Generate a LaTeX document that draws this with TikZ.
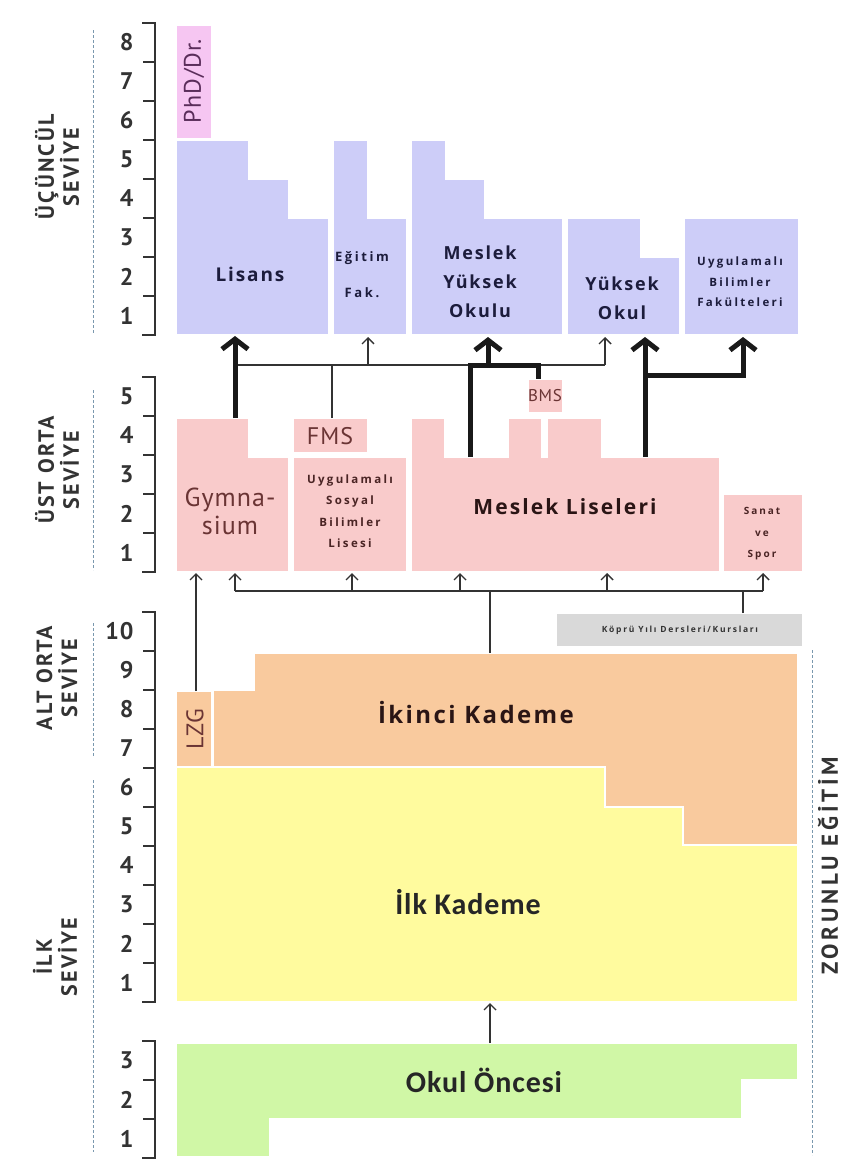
\documentclass[tikz,border=0pt]{standalone}
\usepackage{fontspec}
\setmainfont{Open Sans}
\newfontfamily\boxfont{Open Sans}[LetterSpace=10]
\newfontfamily\tinyfont{Open Sans}[LetterSpace=20]
\newfontfamily\dinfont{PT Sans}[LetterSpace=4]
\newfontfamily\axisfont{PT Sans}[LetterSpace=10]
\newfontfamily\wideaxisfont{PT Sans}[LetterSpace=16]
\newfontfamily\calfont{Carlito}[LetterSpace=3]
\usetikzlibrary{arrows.meta}

\newcommand\fsz[2]{\fontsize{#1}{#2}\selectfont}

\definecolor{lavender}{HTML}{CDCDF8}
\definecolor{orchid}{HTML}{F6C6F2}
\definecolor{rose}{HTML}{F9CBCB}
\definecolor{peach}{HTML}{F9CA9E}
\definecolor{lemon}{HTML}{FFFB9E}
\definecolor{mint}{HTML}{D0F7A6}
\definecolor{bridge}{HTML}{D9D9D9}
\definecolor{ink}{HTML}{333333}
\definecolor{navy}{HTML}{1C1C3C}
\definecolor{wine}{HTML}{6A3434}
\definecolor{plum}{HTML}{5A2D5A}
\definecolor{sepcol}{HTML}{7A98AE}

\tikzset{
  block/.style={draw=white, line width=1.2pt},
  level/.style={font={\axisfont\bfseries\fsz{22}{25}}, text=ink, rotate=90, align=center},
  num/.style={font={\dinfont\bfseries\fsz{24}{24}}, text=ink, anchor=east},
  sep/.style={draw=sepcol, line width=0.9pt, dash pattern=on 3pt off 2pt},
  brk/.style={draw=ink, line width=1.8pt},
  lbl/.style={text=navy, align=center},
  din/.style={font={\dinfont\fsz{24}{28}}, text=wine, align=center},
  link/.style={draw=ink, line width=1.4pt},
  linkarr/.style={link, -{Straight Barb[length=6pt,width=12pt]}},
  mainlink/.style={draw=black!90, line width=5pt},
  mainarr/.style={mainlink, -{Straight Barb[length=10pt,width=26pt]}},
}

\begin{document}
\begin{tikzpicture}[x=1pt, y=-1pt]
\useasboundingbox (0,0) rectangle (844,1167);

% level scales
\foreach \y/\n in {23/8, 377/5, 612/10, 1041/3} {
  \draw[brk] (142,\y) -- (155,\y) -- (155,\y+39*\n) -- (142,\y+39*\n);
  \foreach \k in {1,...,\n} {
    \draw[brk] (143,\y+39*\k) -- (155,\y+39*\k);
    \node[num] (n\y-\k) at (137,\y+39*\n-39*\k+19.5) {\k};
  }
}
\node[level] (tertiary) at (57,167) {ÜÇÜNCÜL\\SEVİYE};
\node[level] (upper) at (57,470) {ÜST ORTA\\SEVİYE};
\node[level] (lower) at (57,678) {ALT ORTA\\SEVİYE};
\node[level] (primary) at (55,957) {İLK\\SEVİYE};
\node[level, inner sep=0pt, font={\wideaxisfont\bfseries\fsz{23}{25}}] (compulsory) at (828,866) {ZORUNLU EĞİTİM};
\draw[sep] (93,30) -- (93,333);
\draw[sep] (93,390) -- (93,570);
\draw[sep] (93,623) -- (93,757);
\draw[sep] (93,780) -- (93,1152);
\draw[sep] (812,650) -- (812,1155);

% tertiary
\fill[orchid, block] (176,25) rectangle (212,139);
\fill[lavender, block] (176,335) -- (176,140) -- (249,140) -- (249,179) -- (289,179) -- (289,218) -- (329,218) -- (329,335) -- cycle;
\fill[lavender, block] (333,335) -- (333,140) -- (368,140) -- (368,218) -- (407,218) -- (407,335) -- cycle;
\fill[lavender, block] (411,335) -- (411,140) -- (446,140) -- (446,179) -- (485,179) -- (485,218) -- (563,218) -- (563,335) -- cycle;
\fill[lavender, block] (567,335) -- (567,218) -- (641,218) -- (641,257) -- (680,257) -- (680,335) -- cycle;
\fill[lavender, block] (684,218) rectangle (799,335);
\node[din, text=plum, rotate=90] (phd) at (194,81) {PhD/Dr.};
\node[lbl, font={\boxfont\bfseries\fsz{19}{29}}] (lisans) at (250,274) {Lisans};
\node[lbl, font={\tinyfont\bfseries\fsz{13}{36}}] (egitim) at (362,275) {Eğitim\\Fak.};
\node[lbl, font={\boxfont\bfseries\fsz{18}{29}}] (myo) at (480,282) {Meslek\\Yüksek\\Okulu};
\node[lbl, font={\boxfont\bfseries\fsz{18}{29}}] (yo) at (622,298) {Yüksek\\Okul};
\node[lbl, font={\tinyfont\bfseries\fsz{11.5}{20.5}}] (ubf) at (740,282) {Uygulamalı\\Bilimler\\Fakülteleri};

% upper secondary
\fill[rose, block] (176,572) -- (176,418) -- (249,418) -- (249,457) -- (289,457) -- (289,572) -- cycle;
\fill[rose, block] (293,418) rectangle (368,453);
\fill[rose, block] (293,457) rectangle (407,572);
\fill[rose, block] (411,572) -- (411,418) -- (445,418) -- (445,457) -- (508,457) -- (508,418) -- (542,418) -- (542,457) -- (547,457) -- (547,418) -- (602,418) -- (602,457) -- (720,457) -- (720,572) -- cycle;
\fill[rose, block] (528,379) rectangle (563,413);
\fill[rose, block] (723,494) rectangle (803,572);
\node[din, font={\dinfont\fsz{26}{28}}] (gym) at (230,511) {Gymna-\\sium};
\node[din] (fms) at (330,436) {FMS};
\node[din, font={\dinfont\fsz{17}{20}}] (bms) at (545,396) {BMS};
\node[lbl, text=wine!70!black, font={\tinyfont\bfseries\fsz{11.5}{21.5}}] (usbl) at (350,511) {Uygulamalı\\Sosyal\\Bilimler\\Lisesi};
\node[lbl, text=wine!40!black, font={\boxfont\bfseries\fsz{21}{24}}] (ml) at (565,507) {Meslek Liseleri};
\node[lbl, text=wine!70!black, font={\tinyfont\bfseries\fsz{10}{21.5}}] (svs) at (762,534) {Sanat\\ve\\Spor};

% bridge year
\fill[bridge, block] (556,613) rectangle (803,647);
\node[lbl, text=ink, font={\tinyfont\bfseries\fsz{8.5}{10}}] (kopru) at (680,630) {Köprü Yılı Dersleri/Kursları};

% lower secondary and primary
\fill[lemon, block] (176,767) rectangle (798,1002);
\fill[peach, block] (213,690) -- (254,690) -- (254,653) -- (798,653) -- (798,845) -- (683,845) -- (683,807) -- (605,807) -- (605,767) -- (213,767) -- cycle;
\fill[peach, block] (176,691) rectangle (212,767);
\node[din, rotate=90] (lzg) at (195,729) {LZG};
\node[lbl, text=wine!40!black, font={\boxfont\bfseries\fsz{24}{26}}] (ikinci) at (476,713) {İkinci Kademe};
\node[lbl, text=black!85, font={\calfont\bfseries\fsz{30}{32}}] (ilk) at (468,902) {İlk Kademe};

% pre-school
\fill[mint, block] (176,1043) -- (798,1043) -- (798,1080) -- (742,1080) -- (742,1119) -- (270,1119) -- (270,1157) -- (176,1157) -- cycle;
\node[lbl, text=black!85, font={\calfont\bfseries\fsz{30}{32}}] (okul) at (484,1080) {Okul Öncesi};

% connector ends
\coordinate (lisB) at (235,336);
\coordinate (egB) at (368,337);
\coordinate (myoB) at (488,337);
\coordinate (yoB) at (605,337);
\coordinate (yoB2) at (645,337);
\coordinate (ubfB) at (743,337);
\coordinate (hL) at (235,365);
\coordinate (hR) at (605,365);
\coordinate (gymT) at (235,418);
\coordinate (fmsT) at (332,418);
\coordinate (bmsT) at (538,379);
\coordinate (mlT) at (470,457);
\coordinate (mlT2) at (645,457);
\coordinate (br) at (645,375);
\coordinate (gymB) at (235,573);
\coordinate (gymB1) at (196,573);
\coordinate (usblB) at (352,573);
\coordinate (mlB) at (460,573);
\coordinate (mlB2) at (607,573);
\coordinate (svsB) at (763,573);
\coordinate (bL) at (235,591);
\coordinate (bR) at (763,591);
\coordinate (lzgT) at (196,691);
\coordinate (ikT) at (490,653);
\coordinate (kopT) at (743,613);
\coordinate (ilkB) at (490,1003);
\coordinate (ooT) at (490,1043);

% to tertiary
\draw[link] (hL) -- (hR);
\draw[link] (fmsT) -- (fmsT |- hL);
\draw[linkarr] (egB |- hL) -- (egB);
\draw[linkarr] (hR) -- (yoB);
\draw[mainarr] (gymT) -- (lisB);
\draw[mainlink] (mlT) |- (bmsT |- hL) -- (bmsT);
\draw[mainarr] (myoB |- hL) -- (myoB);
\draw[mainarr] (mlT2) -- (yoB2);
\draw[mainarr] (br) -| (ubfB);

% to upper secondary
\draw[link] (bL) -- (bR);
\foreach \b in {gymB, usblB, mlB, mlB2, svsB}
  \draw[linkarr] (bL -| \b) -- (\b);
\draw[linkarr] (lzgT) -- (gymB1);
\draw[link] (ikT) -- (ikT |- bL);
\draw[link] (kopT) -- (kopT |- bL);
\draw[linkarr] (ooT) -- (ilkB);
\end{tikzpicture}
\end{document}
